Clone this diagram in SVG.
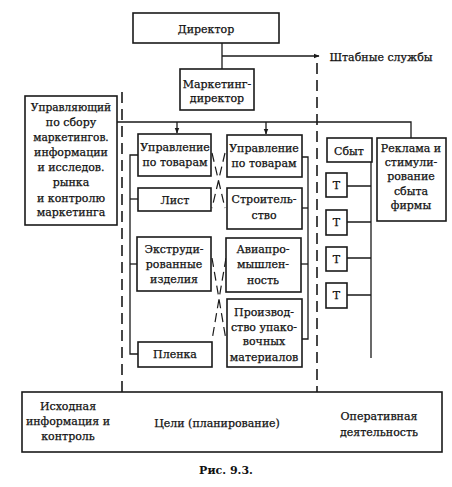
<svg xmlns="http://www.w3.org/2000/svg" width="452" height="487" viewBox="0 0 452 487">
<defs>
<style>
.box{fill:#fff;stroke:#1a1a1a;stroke-width:1.6}
.ln{fill:none;stroke:#1a1a1a;stroke-width:1.3}
.dash{fill:none;stroke:#1a1a1a;stroke-width:1.6;stroke-dasharray:11 6}
.xd{fill:none;stroke:#1a1a1a;stroke-width:1.2;stroke-dasharray:9 5}
text{font-family:"DejaVu Serif","Liberation Serif",serif;font-size:11px;fill:#111;stroke:#111;stroke-width:0.25;text-anchor:middle}
.sm{font-size:10.6px}
.cap{font-weight:bold;font-size:11px;stroke-width:0}
</style>
<marker id="ar" viewBox="0 0 10 10" refX="9" refY="5" markerWidth="6" markerHeight="6" orient="auto" markerUnits="userSpaceOnUse">
<path d="M0,1 L10,5 L0,9 z" fill="#1a1a1a"/>
</marker>
</defs>
<rect width="452" height="487" fill="#fff"/>

<g id="connectors">
<path class="ln" d="M222,43 V69"/>
<path class="ln" d="M222,56 H319" marker-end="url(#ar)"/>
<path class="ln" d="M117,122 H411 V138"/>
<path class="ln" d="M177,122 V133" marker-end="url(#ar)"/>
<path class="ln" d="M266,122 V134" marker-end="url(#ar)"/>
<path class="ln" d="M138,155 H130 V354 H138"/>
<path class="ln" d="M130,199 H138"/>
<path class="ln" d="M130,264 H137"/>
<path class="ln" d="M302,157 H308 V339 H302"/>
<path class="ln" d="M302,208 H308"/>
<path class="ln" d="M301,264 H308"/>
<path class="xd" d="M212,153 L225,208 M225,153 L212,208"/>
<path class="xd" d="M212,258 L226,340 M226,258 L212,340"/>
<path class="ln" d="M371,162 V358"/>
<path class="ln" d="M347,186 H371 M347,222 H371 M347,258 H371 M347,295 H371"/>
<path class="dash" d="M122,92 V452"/>
<path class="dash" d="M317,63 V452"/>
</g>

<g id="director"><rect class="box" x="133" y="13" width="146" height="30"/><text x="206" y="33">Директор</text></g>
<text x="381" y="61">Штабные службы</text>
<g id="marketing"><rect class="box" x="180" y="69" width="74" height="41"/><text x="217" y="88">Маркетинг-</text><text x="217" y="102">директор</text></g>
<g id="manager"><rect class="box" x="25" y="96" width="92" height="129"/>
<text class="sm" x="71" y="111">Управляющий</text><text x="71" y="126">по сбору</text><text class="sm" x="71" y="141">маркетингов.</text><text x="71" y="156">информации</text><text x="71" y="171">и исследов.</text><text x="71" y="186">рынка</text><text x="71" y="202">и контролю</text><text x="71" y="216">маркетинга</text></g>

<g id="prod1"><rect class="box" x="138" y="134" width="73" height="42"/><text x="175" y="151">Управление</text><text x="175" y="166">по товарам</text></g>
<g id="list"><rect class="box" x="138" y="188" width="73" height="23"/><text x="175" y="204">Лист</text></g>
<g id="extr"><rect class="box" x="137" y="237" width="74" height="54"/><text x="174" y="253">Экструди-</text><text x="174" y="268">рованные</text><text x="174" y="283">изделия</text></g>
<g id="film"><rect class="box" x="138" y="342" width="74" height="25"/><text x="175" y="358">Пленка</text></g>

<g id="prod2"><rect class="box" x="227" y="135" width="75" height="42"/><text x="264" y="152">Управление</text><text x="264" y="167">по товарам</text></g>
<g id="build"><rect class="box" x="227" y="188" width="75" height="41"/><text x="264" y="203">Строитель-</text><text x="264" y="219">ство</text></g>
<g id="avia"><rect class="box" x="226" y="238" width="75" height="54"/><text x="263" y="253">Авиапро-</text><text x="263" y="268">мышлен-</text><text x="263" y="284">ность</text></g>
<g id="pack"><rect class="box" x="227" y="299" width="75" height="68"/><text x="264" y="316">Производ-</text><text x="264" y="331">ство упако-</text><text x="264" y="345">вочных</text><text x="264" y="361">материалов</text></g>

<g id="sales"><rect class="box" x="327" y="138" width="45" height="24"/><text x="349" y="155">Сбыт</text></g>
<g id="adv"><rect class="box" x="377" y="138" width="69" height="83"/><text x="411" y="152">Реклама и</text><text x="411" y="166">стимули-</text><text x="411" y="180">рование</text><text x="411" y="195">сбыта</text><text x="411" y="209">фирмы</text></g>
<g id="t1"><rect class="box" x="326" y="173" width="21" height="24"/><text x="336.5" y="189">Т</text></g>
<g id="t2"><rect class="box" x="326" y="210" width="21" height="25"/><text x="336.5" y="226">Т</text></g>
<g id="t3"><rect class="box" x="326" y="247" width="21" height="24"/><text x="336.5" y="263">Т</text></g>
<g id="t4"><rect class="box" x="326" y="283" width="21" height="25"/><text x="336.5" y="299">Т</text></g>

<g id="bottom"><rect class="box" x="22" y="392" width="420" height="60"/>
<text x="68" y="410">Исходная</text><text x="68" y="425">информация и</text><text x="68" y="440">контроль</text>
<text x="217" y="427">Цели (планирование)</text>
<text x="379" y="420">Оперативная</text><text x="379" y="436">деятельность</text></g>
<text class="cap" x="226" y="474">Рис. 9.3.</text>
</svg>
